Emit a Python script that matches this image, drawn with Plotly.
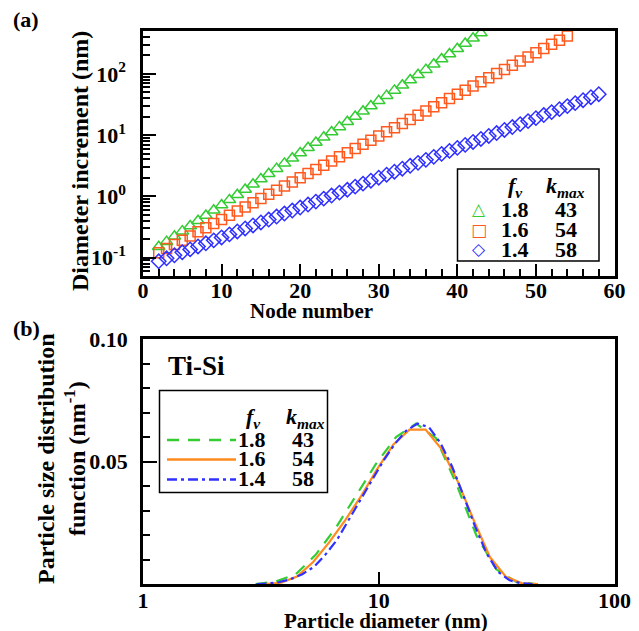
import plotly.graph_objects as go

# ---------------- data: panel (a) ----------------
nodes_18 = list(range(2, 44))
inc_18 = [0.150, 0.182, 0.222, 0.270, 0.328, 0.400, 0.486, 0.591, 0.719, 0.875,
          1.06, 1.29, 1.57, 1.92, 2.33, 2.83, 3.45, 4.19, 5.10, 6.21, 7.55, 9.18,
          11.2, 13.6, 16.5, 20.1, 24.5, 29.8, 36.2, 44.0, 53.6, 65.2, 79.3, 96.4,
          117, 143, 174, 211, 257, 312, 380, 462]
nodes_16 = list(range(2, 55))
inc_16 = [0.120, 0.140, 0.164, 0.192, 0.225, 0.263, 0.307, 0.359, 0.420,
          0.492, 0.575, 0.672, 0.786, 0.920, 1.08, 1.26, 1.47, 1.72,
          2.01, 2.35, 2.75, 3.22, 3.77, 4.41, 5.15, 6.03, 7.05,
          8.25, 9.65, 11.3, 13.2, 15.4, 18.0, 21.1, 24.7, 28.9,
          33.8, 39.5, 46.2, 54.0, 63.2, 73.9, 86.5, 101, 118,
          138, 162, 189, 221, 259, 303, 354, 414]
nodes_14 = list(range(2, 59))
inc_14 = [0.087, 0.0973, 0.109, 0.122, 0.136, 0.152, 0.171, 0.191, 0.213,
          0.239, 0.267, 0.299, 0.334, 0.374, 0.418, 0.468, 0.523, 0.586,
          0.655, 0.733, 0.820, 0.917, 1.03, 1.15, 1.28, 1.44, 1.61,
          1.80, 2.01, 2.25, 2.52, 2.82, 3.15, 3.52, 3.94, 4.41,
          4.93, 5.52, 6.17, 6.91, 7.72, 8.64, 9.67, 10.8, 12.1,
          13.5, 15.1, 16.9, 18.9, 21.2, 23.7, 26.5, 29.7, 33.2,
          37.1, 41.5, 46.5]

fv_labels = ["1.8", "1.6", "1.4"]
kmax_labels = ["43", "54", "58"]

# ---------------- data: panel (b) ----------------
d_18 = [3.0, 3.66, 4.45, 5.41, 6.58, 8.0, 9.73, 11.84, 14.4, 17.5, 21.3, 25.9, 31.5, 38.3, 46.6]
p_18 = [0, 0.001, 0.004, 0.012, 0.023, 0.036, 0.049, 0.060, 0.0655, 0.0595, 0.041, 0.020, 0.006, 0.0008, 0]
d_16 = [3.29, 3.85, 4.5, 5.27, 6.16, 7.2, 8.43, 9.86, 11.54, 13.5, 15.8, 18.5, 21.6, 25.3, 29.6, 34.6, 40.5, 47.4]
p_16 = [0, 0.0005, 0.003, 0.009, 0.017, 0.026, 0.036, 0.047, 0.057, 0.063, 0.063, 0.055, 0.042, 0.026, 0.011, 0.003, 0.0003, 0]
d_14 = [3.03, 3.39, 3.79, 4.24, 4.74, 5.31, 5.94, 6.65, 7.44, 8.32, 9.31, 10.42, 11.66, 13.05, 14.6,
        16.34, 18.28, 20.46, 22.89, 25.61, 28.66, 32.07, 35.89, 40.16, 44.9]
p_14 = [0, 0.0002, 0.0008, 0.002, 0.004, 0.007, 0.012, 0.018, 0.026, 0.034, 0.042, 0.050, 0.057, 0.0625, 0.0655,
        0.064, 0.0575, 0.048, 0.036, 0.0235, 0.0125, 0.005, 0.0015, 0.0003, 0]

GREEN = "#33cc33"
ORANGE_M = "#ff5a1f"
ORANGE_L = "#ff8a1e"
BLUE = "#3030ff"

W, H = 639, 631
def px(x): return x / W
def py(y): return 1 - y / H

SERIF = "Liberation Serif, Times New Roman, serif"

fig = go.Figure()

fig.add_trace(go.Scatter(x=nodes_18, y=inc_18, mode="markers", xaxis="x", yaxis="y",
                         marker=dict(symbol="triangle-up-open", size=11, color=GREEN, line=dict(width=1.5))))
fig.add_trace(go.Scatter(x=nodes_16, y=inc_16, mode="markers", xaxis="x", yaxis="y",
                         marker=dict(symbol="square-open", size=10, color=ORANGE_M, line=dict(width=1.5))))
fig.add_trace(go.Scatter(x=nodes_14, y=inc_14, mode="markers", xaxis="x", yaxis="y",
                         marker=dict(symbol="diamond-open", size=11, color=BLUE, line=dict(width=1.5))))

fig.add_trace(go.Scatter(x=d_18, y=p_18, mode="lines", xaxis="x2", yaxis="y2",
                         line=dict(color=GREEN, width=2.2, dash="12px,9px")))
fig.add_trace(go.Scatter(x=d_16, y=p_16, mode="lines", xaxis="x2", yaxis="y2",
                         line=dict(color=ORANGE_L, width=2.2)))
fig.add_trace(go.Scatter(x=d_14, y=p_14, mode="lines", xaxis="x2", yaxis="y2",
                         line=dict(color=BLUE, width=2.2, dash="10px,4px,3px,4px")))

tickfont = dict(family=SERIF, size=22, color="black", weight="bold")
axis_common = dict(showline=True, linecolor="black", linewidth=2.5, mirror=True,
                   showgrid=False, zeroline=False, ticks="inside", tickcolor="black",
                   tickwidth=2, tickfont=tickfont, automargin=False)

xdom = [px(143), px(614.5)]

fig.update_layout(
    width=W, height=H, margin=dict(l=0, r=0, t=0, b=0, pad=0, autoexpand=False),
    paper_bgcolor="white", plot_bgcolor="white", showlegend=False,
    xaxis=dict(domain=xdom, anchor="y", range=[0, 60], tickvals=[0, 10, 20, 30, 40, 50, 60],
               ticklen=12, ticklabelstandoff=-7,
               minor=dict(ticks="inside", ticklen=7, tickwidth=1.5, dtick=2, tickcolor="black"),
               **axis_common),
    yaxis=dict(domain=[py(276), py(31)], anchor="x", type="log", range=[-1.301, 2.699],
               tickvals=[0.1, 1, 10, 100],
               ticktext=["10<sup>-1</sup>", "10<sup>0</sup>", "10<sup>1</sup>", "10<sup>2</sup>"],
               ticklen=13, ticklabelstandoff=10,
               minor=dict(ticks="inside", ticklen=7, tickwidth=1.5, tickcolor="black",
                          tickvals=[0.06, 0.07, 0.08, 0.09, 0.2, 0.3, 0.4, 0.5, 0.6, 0.7, 0.8, 0.9,
                                    2, 3, 4, 5, 6, 7, 8, 9, 20, 30, 40, 50, 60, 70, 80, 90,
                                    200, 300, 400]),
               **axis_common),
    xaxis2=dict(domain=xdom, anchor="y2", type="log", range=[0, 2], tickvals=[1, 10, 100],
                ticktext=["1", "10", "100"], ticklen=12, ticklabelstandoff=-5, **axis_common),
    yaxis2=dict(domain=[py(584), py(339)], anchor="x2", range=[0, 0.1], tickvals=[0.05, 0.1],
                ticktext=["0.05", "0.10"], ticklen=14, ticklabelstandoff=8,
                minor=dict(ticks="inside", ticklen=7, tickwidth=1.5, tickcolor="black",
                           tickvals=[0.01, 0.02, 0.03, 0.04, 0.06, 0.07, 0.08, 0.09]),
                **axis_common),
)

annotations = []
shapes = []

def text(x, y, s, size, rot=0, family=SERIF, color="black", xanchor="center"):
    annotations.append(dict(x=px(x), y=py(y), xref="paper", yref="paper", text=s, showarrow=False,
                            textangle=rot, xanchor=xanchor, yanchor="middle",
                            font=dict(family=family, size=size, color=color, weight="bold")))

text(26, 19, "(a)", 22)
text(26, 329, "(b)", 22)
text(80, 161, "Diameter increment (nm)", 24, rot=-90)
text(311, 311, "Node number", 21)
text(61, 459, "Particle size distribution<br>function (nm<sup>-1</sup>)", 24, rot=-90)
text(386, 621, "Particle diameter (nm)", 21)
text(196, 366, "Ti-Si", 27)

shapes.append(dict(type="rect", xref="paper", yref="paper", x0=px(457.5), x1=px(599), y0=py(261), y1=py(169),
                   line=dict(color="black", width=1.5), fillcolor="white", layer="above"))
text(515, 187, "<i>f<sub>v</sub></i>", 22)
text(565, 187, "<i>k<sub>max</sub></i>", 22)
sym = ["△", "□", "◇"]
sym_col = [GREEN, ORANGE_M, BLUE]
rows_a = [209, 229.5, 249]
for i in range(3):
    text(479, rows_a[i], sym[i], 17, family="DejaVu Sans", color=sym_col[i])
    text(515, rows_a[i], fv_labels[i], 22)
    text(566, rows_a[i], kmax_labels[i], 22)

shapes.append(dict(type="rect", xref="paper", yref="paper", x0=px(159.5), x1=px(327.5), y0=py(492.5), y1=py(390.5),
                   line=dict(color="black", width=1.5), fillcolor="white", layer="above"))
text(253, 418, "<i>f<sub>v</sub></i>", 22)
text(305, 418, "<i>k<sub>max</sub></i>", 22)
rows_b = [439, 458.5, 478.5]
line_styles = [(GREEN, "12px,9px"), (ORANGE_L, "solid"), (BLUE, "10px,4px,3px,4px")]
for i in range(3):
    c, d = line_styles[i]
    shapes.append(dict(type="line", xref="paper", yref="paper", x0=px(167), x1=px(236),
                       y0=py(rows_b[i] + 1), y1=py(rows_b[i] + 1), layer="above",
                       line=dict(color=c, width=2.5, dash=d)))
    text(251.5, rows_b[i], fv_labels[i], 22)
    text(303, rows_b[i], kmax_labels[i], 22)

fig.update_layout(annotations=annotations, shapes=shapes)
fig.write_html("out.html")
